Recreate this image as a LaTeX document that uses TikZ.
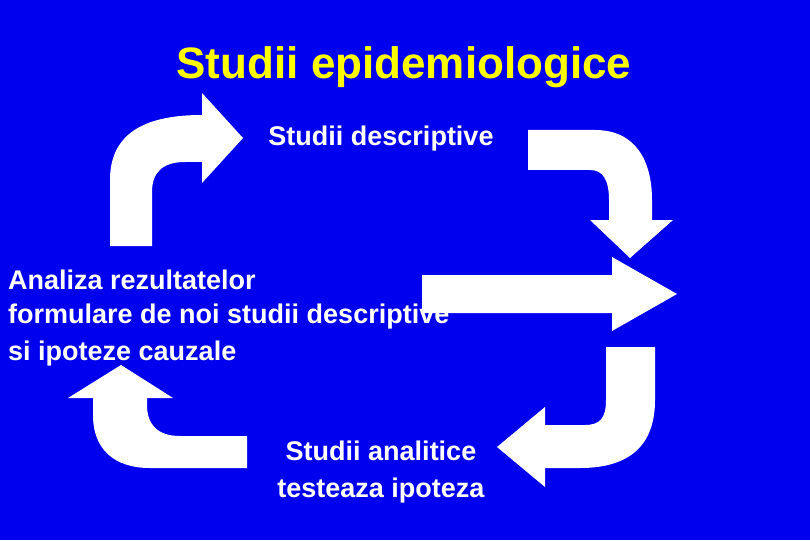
\documentclass[tikz,border=0pt]{standalone}
\usepackage{fontspec}
\setmainfont{Liberation Sans}
\definecolor{bg}{RGB}{0,0,238}
\definecolor{ttl}{RGB}{255,255,0}
\begin{document}
\begin{tikzpicture}[x=1pt,y=-1pt,
  arr/.style={fill=white,draw=none},
  lbl/.style={text=white,font=\bfseries\fontsize{27}{34}\selectfont,inner sep=0pt}]
\fill[bg] (0,0) rectangle (810,540);
\useasboundingbox (0,0) rectangle (810,540);
\node[text=ttl,font=\bfseries\fontsize{44}{50}\selectfont,inner sep=0pt] (title) at (404,67) {Studii epidemiologice};
\node[lbl] (desc) at (381,139) {Studii descriptive};
\node[lbl,align=left,anchor=north west] (anal) at (8,270) {Analiza rezultatelor\\[0pt]formulare de noi studii descriptive\\[3pt]si ipoteze cauzale};
\node[lbl,align=center] (test) at (381,472) {Studii analitice\\[3pt]testeaza ipoteza};
% arrow 1
\fill[arr] (110,246) -- (110,180) .. controls (110,130) and (150,115) .. (202,115) -- (202,93) -- (243,138) -- (202,183) -- (202,162) -- (185,162) .. controls (163,162) and (152,172) .. (152,192) -- (152,246) -- cycle;
% arrow 2
\fill[arr] (528,130) -- (595,130) .. controls (635,130) and (652,160) .. (652,200) -- (652,220) -- (673,220) -- (630,258) -- (590,220) -- (609,220) -- (609,200) .. controls (609,180) and (603,170) .. (590,170) -- (528,170) -- cycle;
% arrow 3
\fill[arr] (422,275) -- (612,275) -- (612,257) -- (677,294) -- (612,331) -- (612,313) -- (422,313) -- cycle;
% arrow 4
\fill[arr] (606,347) -- (655,347) -- (655,400) .. controls (655,445) and (630,468) .. (580,468) -- (545,468) -- (545,487) -- (497,447) -- (545,407) -- (545,425) -- (585,425) .. controls (600,425) and (606,418) .. (606,400) -- cycle;
% arrow 5
\fill[arr] (247,436) -- (180,436) .. controls (158,436) and (147,425) .. (147,405) -- (147,398) -- (173,398) -- (121,365) -- (68,398) -- (93,398) -- (93,415) .. controls (93,450) and (115,468) .. (150,468) -- (247,468) -- cycle;
\end{tikzpicture}
\end{document}
